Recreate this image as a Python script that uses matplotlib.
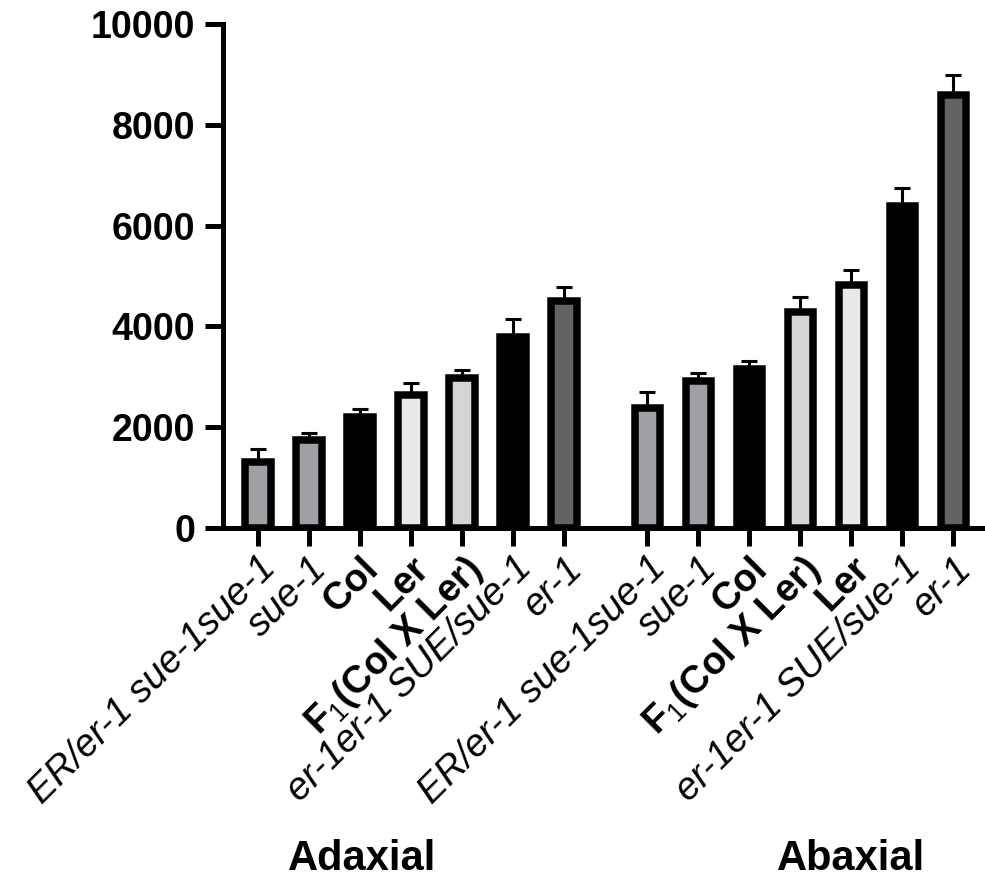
import matplotlib
matplotlib.use("Agg")
import matplotlib.pyplot as plt
import numpy as np

plt.rcParams['font.family'] = ['Liberation Sans', 'DejaVu Sans']
plt.rcParams['mathtext.fontset'] = 'custom'
plt.rcParams['mathtext.rm'] = 'Liberation Sans'
plt.rcParams['mathtext.bf'] = 'Liberation Sans:bold'
plt.rcParams['mathtext.it'] = 'Liberation Sans:italic'

# --- data ---
f1_label = r'$\mathbf{F}_{\mathrm{1}}\mathbf{(Col\ X\ Ler)}$'
adaxial_labels = ['ER/er-1 sue-1sue-1', 'sue-1', 'Col', 'Ler', f1_label,
                  'er-1er-1 SUE/sue-1', 'er-1']
abaxial_labels = ['ER/er-1 sue-1sue-1', 'sue-1', 'Col', f1_label, 'Ler',
                  'er-1er-1 SUE/sue-1', 'er-1']
adaxial_means = [1300, 1755, 2205, 2635, 2985, 3780, 4500]
adaxial_sem = [267, 136, 156, 248, 150, 361, 288]
abaxial_means = [2390, 2925, 3150, 4280, 4825, 6385, 8590]
abaxial_sem = [315, 144, 156, 310, 287, 361, 392]
adaxial_colors = ['#a0a0a4', '#a0a0a4', '#000000', '#e8e8e8', '#d4d4d4', '#000000', '#636363']
abaxial_colors = ['#a0a0a4', '#a0a0a4', '#000000', '#d4d4d4', '#e8e8e8', '#000000', '#636363']
group_names = ['Adaxial', 'Abaxial']
y_ticks = [0, 2000, 4000, 6000, 8000, 10000]

bold_names = {'Col', 'Ler', f1_label}

fig = plt.figure(figsize=(9.85, 8.82), dpi=100)
ax = fig.add_axes([223 / 985, 354 / 882, 762 / 985, 504 / 882])

x_ad = np.arange(len(adaxial_means))
x_ab = np.arange(len(abaxial_means)) + 7.63

for xs, means, sem, cols in [(x_ad, adaxial_means, adaxial_sem, adaxial_colors),
                             (x_ab, abaxial_means, abaxial_sem, abaxial_colors)]:
    ax.errorbar(xs, means, yerr=[np.zeros(len(sem)), sem], fmt='none',
                ecolor='black', elinewidth=2.2, capsize=6, capthick=2.2, zorder=2)
    ax.bar(xs, means, width=0.5, color=cols, edgecolor='black',
           linewidth=5.4, zorder=3)

ax.set_xlim(-0.686, 14.25)
ax.set_ylim(0, 10000)
ax.set_yticks(y_ticks)

for s in ['top', 'right']:
    ax.spines[s].set_visible(False)
for s in ['left', 'bottom']:
    ax.spines[s].set_linewidth(3.6)

ax.tick_params(axis='both', length=13, width=3.6, labelsize=27)
ax.tick_params(axis='y', pad=7)
ax.tick_params(axis='x', pad=3)
for lab in ax.get_yticklabels():
    lab.set_fontweight('bold')

all_labels = adaxial_labels + abaxial_labels
ax.set_xticks(np.concatenate([x_ad, x_ab]))
ax.set_xticklabels(all_labels, rotation=45, ha='right', va='top',
                   rotation_mode='anchor', fontsize=27.5)
for lab, name in zip(ax.get_xticklabels(), all_labels):
    if name in bold_names:
        lab.set_fontweight('bold')
    else:
        lab.set_fontstyle('italic')

fig.text(362 / 985, 12 / 882, group_names[0], ha='center', va='baseline',
         fontsize=30, fontweight='bold')
fig.text(851 / 985, 12 / 882, group_names[1], ha='center', va='baseline',
         fontsize=30, fontweight='bold')

fig.savefig('out.png', dpi=100)
